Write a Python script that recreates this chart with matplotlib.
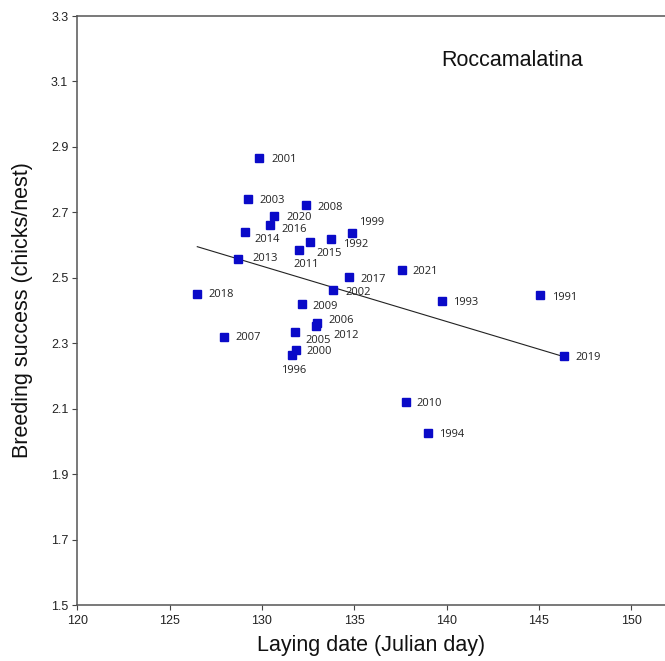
import matplotlib
matplotlib.use("Agg")
import matplotlib.pyplot as plt

# ---- data ----
years = ["2001", "2003", "2008", "2020", "2016", "2014", "1999", "1992", "2015",
         "2011", "2013", "2017", "2002", "2018", "2009", "2006", "2012", "2005",
         "2007", "2000", "1996", "2021", "1993", "1991", "2019", "2010", "1994"]
laying_date = [129.86, 129.23, 132.39, 130.66, 130.42, 129.10, 134.88, 133.73, 132.59,
               131.99, 128.68, 134.72, 133.85, 126.47, 132.16, 133.01, 132.92, 131.81,
               127.93, 131.86, 131.65, 137.57, 139.74, 145.08, 146.35, 137.79, 139.00]
breeding_success = [2.867, 2.742, 2.721, 2.688, 2.661, 2.640, 2.638, 2.618, 2.608,
                    2.584, 2.558, 2.501, 2.463, 2.451, 2.419, 2.363, 2.353, 2.334,
                    2.320, 2.279, 2.263, 2.523, 2.429, 2.448, 2.262, 2.121, 2.025]
trend_x = [126.5, 146.35]
trend_y = [2.595, 2.259]

x_ticks = [120, 125, 130, 135, 140, 145, 150]
y_ticks = [1.5, 1.7, 1.9, 2.1, 2.3, 2.5, 2.7, 2.9, 3.1, 3.3]

# label offsets in pixels (dx right, dy up) relative to each marker
label_offsets = {
    "2001": (12, -1.6), "2003": (11.6, -1.6), "2008": (11.7, -1.7), "2020": (12, -1),
    "2016": (11.6, -4.3), "2014": (8.7, -7.3), "1999": (7.3, 10), "1992": (12.6, -5),
    "2015": (7, -11), "2011": (-4.7, -14), "2013": (15.4, 0.7), "2017": (11.7, -1.7),
    "2002": (12, -2.3), "2018": (11.6, -1), "2009": (11, -2.4), "2006": (10.7, 2),
    "2012": (17.3, -9.6), "2005": (10.4, -8), "2007": (11.6, -1.3), "2000": (10.4, -1.7),
    "1996": (-11.3, -15.4), "2021": (11, -1.7), "1993": (11.6, -1.3), "1991": (12, -2.3),
    "2019": (11.3, -1.6), "2010": (11, -2), "1994": (11.3, -1.4),
}

W, H = 665, 661
fig = plt.figure(figsize=(W / 100, H / 100), dpi=100)
ax = fig.add_axes([77.3 / W, (H - 605) / H, (W - 77.3) / W, (605 - 16) / H])

ax.plot(trend_x, trend_y, color="#222222", lw=0.8, zorder=2)
ax.plot(laying_date, breeding_success, ls="none", marker="s", ms=5.4,
        color="#0a0ac8", mec="#0a0ac8", zorder=3)

for yr, xv, yv in zip(years, laying_date, breeding_success):
    dx, dy = label_offsets[yr]
    ax.annotate(yr, (xv, yv), xytext=(dx * 0.72, dy * 0.72), textcoords="offset points",
                ha="left", va="center", fontsize=8, family=["Open Sans", "DejaVu Sans"],
                color="#222222", zorder=4)

ax.set_xlim(120, 120 + (W - 77.3) / 18.46)
ax.set_ylim(1.5, 3.3)
ax.set_xticks(x_ticks)
ax.set_yticks(y_ticks)
ax.set_yticklabels([f"{v:.1f}" for v in y_ticks])
ax.tick_params(direction="out", length=3.5, width=0.8, color="#444444",
               labelsize=9, labelcolor="#222222")
ax.tick_params(axis="x", pad=4)
ax.tick_params(axis="y", pad=3)
for lab in ax.get_xticklabels() + ax.get_yticklabels():
    lab.set_family(["Liberation Sans", "DejaVu Sans"])

for side in ["left", "bottom", "top"]:
    ax.spines[side].set_color("#555555")
    ax.spines[side].set_linewidth(1.1)
ax.spines["right"].set_visible(False)

ax.set_xlabel("Laying date (Julian day)", fontsize=15.5,
              family=["Liberation Sans", "DejaVu Sans"], color="#111111", va="center")
ax.xaxis.set_label_coords(0.5, (605 - 645) / 589)
ax.set_ylabel("Breeding success (chicks/nest)", fontsize=15.5,
              family=["Liberation Sans", "DejaVu Sans"], color="#111111", va="center")
ax.yaxis.set_label_coords((23 - 77.3) / (W - 77.3), 0.5)

fig.text(441.7 / W, 1 - 66 / H, "Roccamalatina", fontsize=15.5,
         family=["Liberation Sans", "DejaVu Sans"], color="#111111",
         ha="left", va="baseline")

fig.savefig("out.png", dpi=100)
